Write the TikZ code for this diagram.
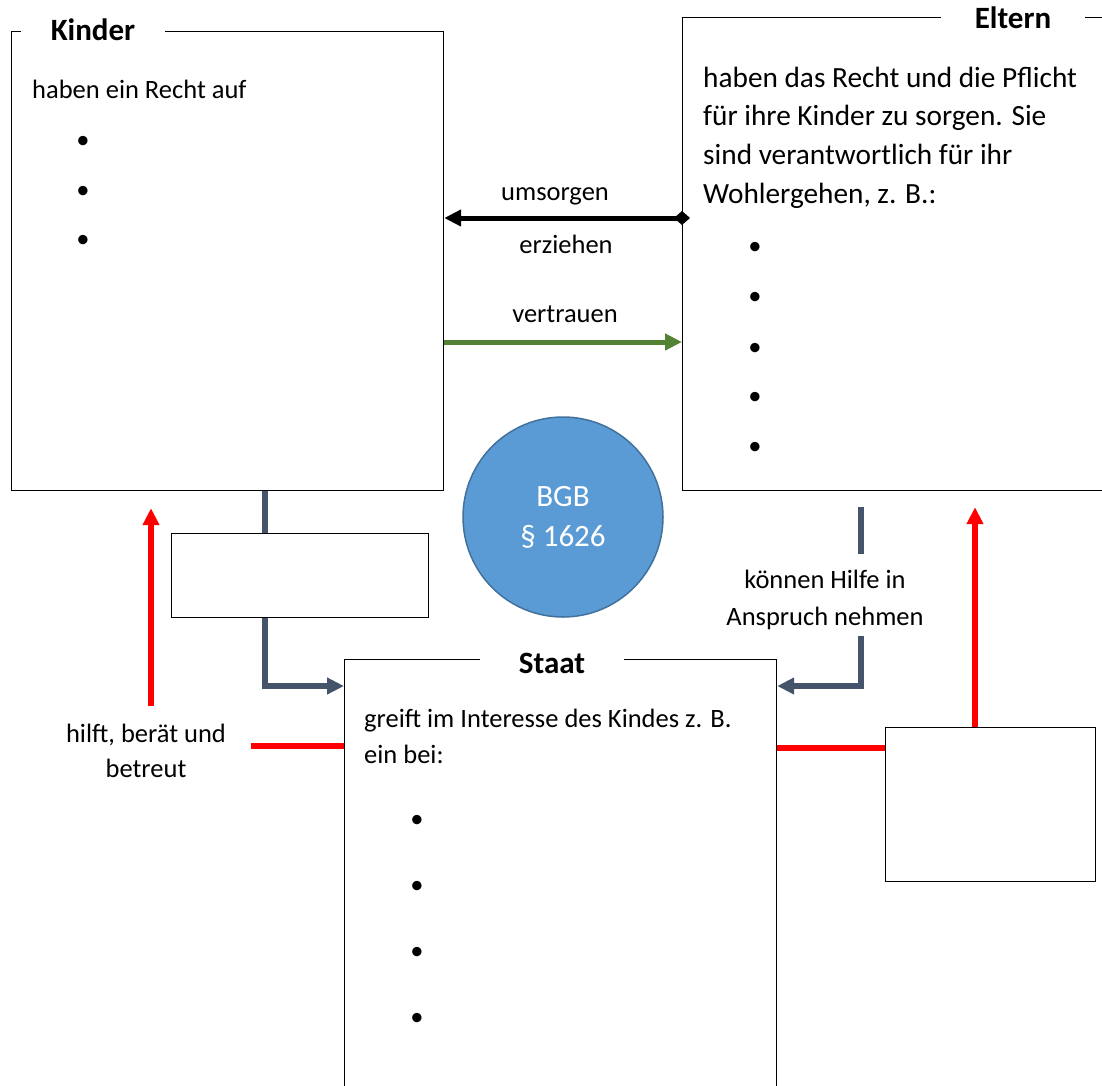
\documentclass[tikz,border=0pt]{standalone}
\usepackage{fontspec}
\setmainfont{Carlito}
\usetikzlibrary{arrows.meta,positioning}
\definecolor{slate}{HTML}{44546A}
\definecolor{bgbblue}{HTML}{5B9BD5}
\definecolor{bgbedge}{HTML}{41719C}
\definecolor{leafgreen}{HTML}{548235}

\begin{document}
\begin{tikzpicture}[x=1pt,y=-1pt,
    box/.style={draw,line width=1.2pt,inner sep=0pt,anchor=north west},
    title/.style={fill=white,inner xsep=0pt,inner ysep=3pt,minimum width=144pt,anchor=base,font=\fontsize{31}{37}\selectfont\bfseries},
    body/.style={inner sep=0pt,anchor=base west,align=left,font=\fontsize{26.5}{38.5}\selectfont},
    lbl/.style={inner sep=0pt,anchor=base,align=center,font=\fontsize{26.5}{36}\selectfont},
    bul/.style={inner sep=0pt,font=\fontsize{26.5}{30}\selectfont},
    link/.style={line width=6pt,slate},
    hilfe/.style={line width=6pt,red},
    arr/.style={-{Triangle[length=17pt,width=16pt]}}
  ]
    \useasboundingbox (0,0) rectangle (1102,1085);
    \clip (0,0) rectangle (1102,1085);

    % Kinder
    \node[box,minimum width=432pt,minimum height=459pt] (kind) at (11,31) {};
    \node[title] (kindt) at (93,40) {Kinder};
    \node[body] (kindx) at (32,98) {haben ein Recht auf};
    \node[bul] (kb1) at (83,142) {•};
    \node[bul] (kb2) at (83,192) {•};
    \node[bul] (kb3) at (83,241) {•};

    % Eltern (last line sets the base)
    \node[box,minimum width=440pt,minimum height=473pt] (elt) at (682,17) {};
    \node[title] (eltt) at (1013,28) {Eltern};
    \node[body,font=\fontsize{29.3}{38.6}\selectfont] (eltx) at (703,203) {haben das Recht und die Pflicht\\für ihre Kinder zu sorgen. Sie\\sind verantwortlich für ihr\\Wohlergehen, z. B.:};
    \node[bul] (eb1) at (755,248) {•};
    \node[bul] (eb2) at (755,298) {•};
    \node[bul] (eb3) at (755,349) {•};
    \node[bul] (eb4) at (755,398) {•};
    \node[bul] (eb5) at (755,448) {•};

    % Staat
    \node[box,minimum width=432pt,minimum height=460pt] (staat) at (344,659) {};
    \node[title] (staatt) at (552,673) {Staat};
    \node[body,font=\fontsize{26.5}{35.4}\selectfont] (staatx) at (364,763) {greift im Interesse des Kindes z. B.\\ein bei:};
    \node[bul] (sb1) at (417,821) {•};
    \node[bul] (sb2) at (417,887) {•};
    \node[bul] (sb3) at (417,953) {•};
    \node[bul] (sb4) at (417,1019) {•};

    % empty boxes and BGB
    \node[box,minimum width=257pt,minimum height=84pt] (kbox) at (171,533) {};
    \node[box,minimum width=210pt,minimum height=154pt] (ebox) at (885,727) {};
    \node[circle,fill=bgbblue,draw=bgbedge,line width=1.5pt,minimum size=200pt,inner sep=0pt,text=white,align=center,font=\fontsize{31}{43}\selectfont] (bgb) at (563,517) {\raisebox{-3pt}{BGB}\\§ 1626};

    % labels
    \node[lbl] (umso) at (555,200) {umsorgen};
    \node[lbl] (erz) at (566,253) {erziehen};
    \node[lbl] (vertr) at (565,322) {vertrauen};
    \node[lbl,font=\fontsize{26.5}{37}\selectfont] (hilfel) at (825,625) {können Hilfe in\\Anspruch nehmen};
    \node[lbl,font=\fontsize{26.5}{35}\selectfont] (hilfk) at (146,777) {hilft, berät und\\betreut};

    % Eltern <-> Kinder
    \draw[line width=5pt,{Diamond[length=16pt,width=14pt]}-{Triangle[length=17pt,width=16pt]},shorten <=-8pt] (elt.west |- 0,218) -- (kind.east |- 0,218);
    \draw[line width=5pt,leafgreen,arr] (kind.east |- 0,342) -- (elt.west |- 0,342);

    % to Staat
    \draw[link] (265,0 |- kind.south) -- (265,0 |- kbox.north);
    \draw[link,arr] (265,0 |- kbox.south) |- (staat.west |- 0,686);
    \draw[link,shorten <=16pt,shorten >=15pt] (861,0 |- elt.south) -- (861,0 |- hilfel.north);
    \draw[link,arr,shorten <=7pt] (861,0 |- hilfel.south) |- (staat.east |- 0,686);

    % Staat helps
    \draw[hilfe,arr,shorten <=17pt,shorten >=17pt] (151,0 |- hilfk.north) -- (151,0 |- kind.south);
    \draw[hilfe,shorten <=25pt] (hilfk.east |- 0,746) -- (staat.west |- 0,746);
    \draw[hilfe] (staat.east |- 0,748) -- (ebox.west |- 0,748);
    \draw[hilfe,arr,shorten >=16pt] (975,0 |- ebox.north) -- (975,0 |- elt.south);
  \end{tikzpicture}
\end{document}
